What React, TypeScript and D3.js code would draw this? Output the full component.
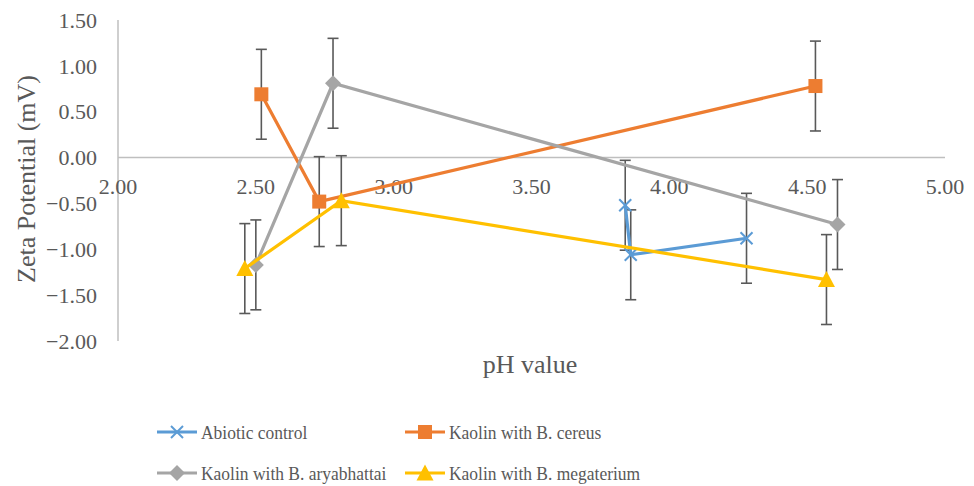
import React from "react";
import * as d3 from "d3";

// pH values and zeta potentials for each suspension
const abioticX = [3.84, 3.86, 4.28];
const abioticY = [-0.52, -1.06, -0.88];
const abioticErr = [0.49, 0.49, 0.49];

const cereusX = [2.52, 2.73, 4.53];
const cereusY = [0.69, -0.48, 0.78];
const cereusErr = [0.49, 0.49, 0.49];

const aryaX = [2.5, 2.78, 4.61];
const aryaY = [-1.17, 0.81, -0.73];
const aryaErr = [0.49, 0.49, 0.49];

const megaX = [2.46, 2.81, 4.57];
const megaY = [-1.21, -0.47, -1.33];
const megaErr = [0.49, 0.49, 0.49];

const seriesNames = [
  "Abiotic control",
  "Kaolin with B. cereus",
  "Kaolin with B. aryabhattai",
  "Kaolin with B. megaterium",
];
const seriesColors = ["#5B9BD5", "#ED7D31", "#A5A5A5", "#FFC000"];
const markerKinds = ["x", "square", "diamond", "triangle"];

const xTicks = [2.0, 2.5, 3.0, 3.5, 4.0, 4.5, 5.0];
const yTicks = [1.5, 1.0, 0.5, 0.0, -0.5, -1.0, -1.5, -2.0];

const W = 974;
const H = 486;
const FONT = "'Liberation Serif', 'Times New Roman', serif";
const TEXT = "#595959";

type Pt = { x: number; y: number; e: number };

function zip(xs: number[], ys: number[], es: number[]): Pt[] {
  return xs.map((x, i) => ({ x, y: ys[i], e: es[i] }));
}

const series = [
  zip(abioticX, abioticY, abioticErr),
  zip(cereusX, cereusY, cereusErr),
  zip(aryaX, aryaY, aryaErr),
  zip(megaX, megaY, megaErr),
];

function Marker({ kind, cx, cy, color }: { kind: string; cx: number; cy: number; color: string }) {
  if (kind === "x") {
    const r = 6;
    return (
      <g stroke={color} strokeWidth={2}>
        <line x1={cx - r} y1={cy - r} x2={cx + r} y2={cy + r} />
        <line x1={cx - r} y1={cy + r} x2={cx + r} y2={cy - r} />
      </g>
    );
  }
  if (kind === "square") {
    const s = 14;
    return <rect x={cx - s / 2} y={cy - s / 2} width={s} height={s} fill={color} />;
  }
  if (kind === "diamond") {
    const r = 8;
    return (
      <path
        d={`M${cx},${cy - r}L${cx + r},${cy}L${cx},${cy + r}L${cx - r},${cy}Z`}
        fill={color}
      />
    );
  }
  const w = 17;
  const h = 15;
  return (
    <path
      d={`M${cx},${cy - h / 2 - 1}L${cx + w / 2},${cy + h / 2}L${cx - w / 2},${cy + h / 2}Z`}
      fill={color}
    />
  );
}

export default function App() {
  const x = d3.scaleLinear().domain([2, 5]).range([118, 945]);
  const y = d3.scaleLinear().domain([-2, 1.5]).range([341, 20]);
  const line = d3
    .line<Pt>()
    .x((d) => x(d.x))
    .y((d) => y(d.y));

  const legendItems = [
    { lx: 157, ly: 432 },
    { lx: 405, ly: 432 },
    { lx: 157, ly: 473 },
    { lx: 405, ly: 473 },
  ];

  return (
    <div style={{ position: "absolute", left: 0, top: 0 }}>
      <svg width={W} height={H} style={{ display: "block", background: "#fff" }}>
        <rect width={W} height={H} fill="#fff" />
        {/* axes */}
        <line x1={x(2)} x2={x(2)} y1={y(1.5)} y2={y(-2)} stroke="#BFBFBF" strokeWidth={1.5} />
        <line x1={x(2)} x2={x(5)} y1={y(0)} y2={y(0)} stroke="#BFBFBF" strokeWidth={1.5} />

        {yTicks.map((t) => (
          <text
            key={"y" + t}
            x={97}
            y={y(t)}
            dy="0.35em"
            textAnchor="end"
            fontFamily={FONT}
            fontSize={22}
            fill={TEXT}
          >
            {d3.format(".2f")(t)}
          </text>
        ))}
        {xTicks.map((t) => (
          <text
            key={"x" + t}
            x={x(t)}
            y={194}
            textAnchor="middle"
            fontFamily={FONT}
            fontSize={22}
            fill={TEXT}
          >
            {d3.format(".2f")(t)}
          </text>
        ))}

        <text x={530} y={373} textAnchor="middle" fontFamily={FONT} fontSize={26} fill={TEXT}>
          pH value
        </text>
        <text
          transform={`translate(35,179) rotate(-90)`}
          textAnchor="middle"
          fontFamily={FONT}
          fontSize={26}
          fill={TEXT}
        >
          Zeta Potential (mV)
        </text>

        {/* series: error bars, line, markers */}
        {series.map((pts, si) => (
          <g key={"s" + si}>
            {pts.map((d, i) => (
              <g key={"e" + i} stroke="#595959" strokeWidth={1.6}>
                <line x1={x(d.x)} x2={x(d.x)} y1={y(d.y + d.e)} y2={y(d.y - d.e)} />
                <line x1={x(d.x) - 5.5} x2={x(d.x) + 5.5} y1={y(d.y + d.e)} y2={y(d.y + d.e)} />
                <line x1={x(d.x) - 5.5} x2={x(d.x) + 5.5} y1={y(d.y - d.e)} y2={y(d.y - d.e)} />
              </g>
            ))}
            <path d={line(pts) || ""} fill="none" stroke={seriesColors[si]} strokeWidth={3.2} />
            {pts.map((d, i) => (
              <Marker key={"m" + i} kind={markerKinds[si]} cx={x(d.x)} cy={y(d.y)} color={seriesColors[si]} />
            ))}
          </g>
        ))}

        {/* legend */}
        {legendItems.map((p, i) => (
          <g key={"l" + i}>
            <line x1={p.lx} x2={p.lx + 40} y1={p.ly} y2={p.ly} stroke={seriesColors[i]} strokeWidth={3.2} />
            <Marker kind={markerKinds[i]} cx={p.lx + 20} cy={p.ly} color={seriesColors[i]} />
            <text
              transform={`translate(${p.lx + 44},${p.ly}) scale(0.93,1)`}
              dy="0.35em"
              fontFamily={FONT}
              fontSize={18.8}
              fill={TEXT}
            >
              {seriesNames[i]}
            </text>
          </g>
        ))}
      </svg>
    </div>
  );
}
